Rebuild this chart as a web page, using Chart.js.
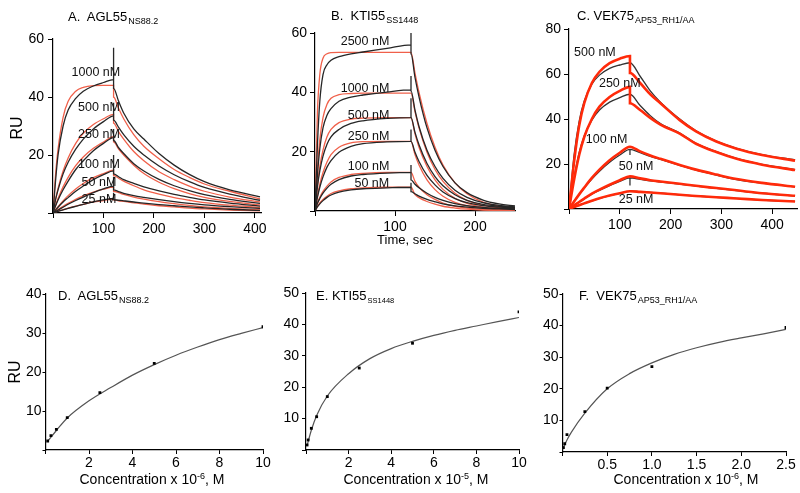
<!DOCTYPE html>
<html>
<head>
<meta charset="utf-8">
<script src="https://cdn.jsdelivr.net/npm/chart.js@4.4.1/dist/chart.umd.min.js"></script>
<style>
body{margin:0;background:#fff;width:800px;height:493px;position:relative;overflow:hidden;font-family:"Liberation Sans",Arial,sans-serif;color:#000}
canvas{position:absolute}
.t{position:absolute;white-space:nowrap;font-size:13px;line-height:1}
.t sub{font-size:9px;vertical-align:baseline;position:relative;top:3px;margin-left:1px}
.t sub.s{font-size:7.5px}
.ru{position:absolute;font-size:16px;line-height:1;transform:translate(-50%,-50%) rotate(-90deg)}
.xl{position:absolute;font-size:14px;line-height:1;white-space:nowrap;transform:translateX(-50%)}
.xl sup{font-size:9px;vertical-align:baseline;position:relative;top:-5px}
</style>
</head>
<body>
<canvas id="cA" width="270" height="245" style="left:0;top:0"></canvas>
<canvas id="cB" width="265" height="245" style="left:265px;top:0"></canvas>
<canvas id="cC" width="270" height="245" style="left:530px;top:0"></canvas>
<canvas id="cD" width="275" height="248" style="left:0;top:245px"></canvas>
<canvas id="cE" width="275" height="248" style="left:265px;top:245px"></canvas>
<canvas id="cF" width="270" height="248" style="left:530px;top:245px"></canvas>

<div class="t" style="left:68px;top:10px">A.&nbsp; AGL55<sub>NS88.2</sub></div>
<div class="t" style="left:331px;top:9px">B.&nbsp; KTI55<sub>SS1448</sub></div>
<div class="t" style="left:577px;top:9px">C. VEK75<sub>AP53_RH1/AA</sub></div>
<div class="t" style="left:58px;top:289px">D.&nbsp; AGL55<sub>NS88.2</sub></div>
<div class="t" style="left:316px;top:289px">E. KTI55<sub class="s">SS1448</sub></div>
<div class="t" style="left:579px;top:289px">F.&nbsp; VEK75<sub>AP53_RH1/AA</sub></div>

<div class="ru" style="left:17px;top:128px">RU</div>
<div class="ru" style="left:15px;top:372px">RU</div>
<div class="xl" style="left:405px;top:233px;font-size:13px">Time, sec</div>
<div class="xl" style="left:152px;top:472px">Concentration x 10<sup>-6</sup>, M</div>
<div class="xl" style="left:416px;top:472px">Concentration x 10<sup>-5</sup>, M</div>
<div class="xl" style="left:686px;top:472px">Concentration x 10<sup>-6</sup>, M</div>

<script>
// ---- A. AGL55 sensorgrams (RU vs time, s) ----
const tOnA = [0, 5, 10, 20, 30, 45, 60, 80, 100, 120];
const tOffA = [120, 130, 140, 160, 180, 210, 240, 270, 300, 350, 410];
const concA = ['1000 nM', '500 nM', '250 nM', '100 nM', '50 nM', '25 nM'];
const obsOnA = [
  [0, 11, 20, 30, 35.5, 39.5, 42, 43.8, 45, 46],
  [0, 4.5, 8, 13.5, 17.5, 22, 25.5, 29, 31.5, 33.5],
  [0, 2.4, 4.5, 8, 11, 15, 18, 21.5, 24, 26],
  [0, 1, 2, 3.8, 5.3, 7.5, 9.3, 11.5, 13.2, 14.5],
  [0, 0.5, 1, 2, 3, 4.3, 5.5, 7, 8.3, 9.3],
  [0, 0.3, 0.6, 1.1, 1.6, 2.3, 3, 3.8, 4.5, 5]
];
const spikeA = [57, 38, 29, 20, 12.5, 7];
const obsOffA = [
  [43, 38.5, 34.5, 29, 25.5, 20.5, 16.5, 13.3, 10.8, 8, 5.6],
  [32, 29.5, 27, 23, 20, 16.2, 13.2, 10.8, 8.8, 6.5, 4.4],
  [25, 22.5, 20.5, 17, 14.5, 11.6, 9.4, 7.7, 6.3, 4.7, 3.3],
  [13.5, 12.5, 11.5, 10.2, 9, 7.6, 6.4, 5.4, 4.5, 3.4, 2.4],
  [8, 7.4, 6.8, 6, 5.4, 4.6, 3.9, 3.3, 2.8, 2.2, 1.6],
  [4.6, 4.4, 4.2, 3.8, 3.4, 2.9, 2.5, 2.1, 1.8, 1.3, 0.9]
];
const fitOnA = [
  [0, 13, 22, 33, 38.5, 42, 43.3, 43.9, 44, 44],
  [0, 4.8, 8.5, 14.5, 19, 24, 27.5, 30.5, 32.5, 34],
  [0, 2.6, 5, 9, 12.3, 16.3, 19.3, 22.3, 24.5, 26.3],
  [0, 1.1, 2.2, 4.2, 6, 8.3, 10.2, 12.2, 13.6, 14.8],
  [0, 0.6, 1.2, 2.3, 3.3, 4.7, 5.9, 7.2, 8.2, 8.9],
  [0, 0.3, 0.6, 1.2, 1.7, 2.4, 3, 3.8, 4.3, 4.8]
];
const fitOffA = [
  [40, 36, 32.5, 27, 23, 18.7, 15, 12.3, 10, 7.5, 4.9],
  [31, 28, 25.5, 21.2, 18, 14.2, 11.5, 9.3, 7.5, 5.5, 3.8],
  [24.5, 22, 20, 16.5, 13.6, 10.6, 8.4, 6.7, 5.4, 4, 2.8],
  [13, 12, 11, 9.4, 8, 6.5, 5.3, 4.4, 3.6, 2.7, 1.9],
  [7.5, 7, 6.4, 5.5, 4.8, 3.9, 3.2, 2.6, 2.1, 1.6, 1.1],
  [4.5, 4.2, 4, 3.5, 3.1, 2.5, 2.1, 1.7, 1.4, 1, 0.7]
];
const labelXA = [85, 91, 91, 91, 91, 91];
const labelYA = [48.5, 36.2, 27, 16.8, 10.5, 4.8];

// ---- B. KTI55 sensorgrams ----
const tOnB = [0, 3, 6, 10, 15, 20, 30, 45, 60, 90, 120];
const tOffB = [120, 125, 130, 140, 150, 160, 175, 190, 210, 230, 250];
const concB = ['2500 nM', '1000 nM', '500 nM', '250 nM', '100 nM', '50 nM'];
const obsOnB = [
  [0, 22, 37, 46, 49.3, 50.8, 52, 53, 53.6, 54.8, 56],
  [0, 12, 21, 28, 32.3, 34.5, 37, 38.4, 39.1, 40.1, 40.8],
  [0, 8, 13.5, 18.5, 22.5, 25, 27.5, 29.5, 30.4, 31.2, 31.5],
  [0, 4.5, 8, 11.5, 14.8, 17, 19.8, 21.8, 22.7, 23.3, 23.5],
  [0, 2.5, 4.2, 6, 7.7, 9, 10.6, 11.8, 12.3, 12.8, 13],
  [0, 1.4, 2.4, 3.5, 4.6, 5.4, 6.4, 7.1, 7.5, 7.8, 8]
];
const spikeB = [60.5, 45.5, 38, 27.5, 15.5, 9.5];
const obsOffB = [
  [53, 45, 38.5, 28, 20.5, 15, 9.5, 6.2, 3.7, 2.4, 1.7],
  [40.5, 34, 28.5, 20.5, 15, 11, 7, 4.6, 2.8, 1.9, 1.4],
  [31.5, 26.5, 22.3, 16, 11.6, 8.5, 5.5, 3.6, 2.2, 1.6, 1.2],
  [23.5, 19.8, 16.7, 12, 8.8, 6.4, 4.2, 2.8, 1.8, 1.3, 1],
  [10.5, 9, 7.8, 6, 4.6, 3.6, 2.5, 1.8, 1.2, 0.9, 0.7],
  [6.5, 5.8, 5, 3.9, 3.1, 2.4, 1.7, 1.3, 0.9, 0.7, 0.5]
];
const fitOnB = [
  [0, 33, 46, 51.5, 53, 53.4, 53.5, 53.5, 53.5, 53.5, 53.5],
  [0, 14, 24, 31.5, 36, 38, 39.2, 39.6, 39.7, 39.7, 39.7],
  [0, 8.5, 15, 20.5, 25, 27.5, 29.8, 31, 31.3, 31.5, 31.5],
  [0, 5, 9, 13, 16.5, 19, 21.5, 23, 23.4, 23.5, 23.5],
  [0, 2.7, 4.6, 6.6, 8.4, 9.8, 11.3, 12.3, 12.7, 13, 13],
  [0, 1.5, 2.7, 3.9, 5, 5.9, 6.8, 7.5, 7.8, 8, 8]
];
const fitOffB = [
  [53.5, 46.5, 40, 29.5, 21.5, 15.5, 9.5, 5.8, 3, 1.6, 0.9],
  [39.7, 33.5, 28, 19.8, 14, 10, 6, 3.6, 1.9, 1.1, 0.6],
  [31.5, 26, 21.5, 15, 10.5, 7.3, 4.3, 2.6, 1.3, 0.7, 0.4],
  [23.5, 19, 15.5, 10.5, 7.2, 5, 2.9, 1.7, 0.9, 0.5, 0.3],
  [13, 10, 8, 5.5, 3.9, 2.7, 1.6, 1, 0.5, 0.3, 0.2],
  [8, 5.5, 4.5, 3.2, 2.3, 1.6, 1, 0.6, 0.3, 0.2, 0.1]
];
const labelXB = [62.5, 62.5, 67, 67, 67, 71];
const labelYB = [57, 41.2, 32.2, 25.2, 15, 9.4];

// ---- C. VEK75 sensorgrams ----
const tOnC = [0, 10, 20, 30, 45, 60, 80, 100, 120];
const tOffC = [120, 140, 160, 180, 218, 250, 290, 330, 380, 445];
const concC = ['500 nM', '250 nM', '100 nM', '50 nM', '25 nM'];
const obsOnC = [
  [0, 24, 39, 48, 55.5, 59.5, 62.5, 64, 65],
  [0, 14, 25, 32.5, 39.5, 44, 47.5, 49.5, 51],
  [0, 3.5, 6.5, 9.3, 13.3, 16.8, 20.8, 24, 26.5],
  [0, 1.6, 3.1, 4.5, 6.6, 8.3, 10.4, 12.3, 13.8],
  [0, 0.9, 1.7, 2.5, 3.6, 4.7, 5.9, 6.9, 7.8]
];
const spikeC = [null, null, 24, 10.5, null];
const obsOffC = [
  [65, 59, 52.5, 47.5, 40, 34.8, 30.2, 27, 24.2, 21.8],
  [51, 46, 41.5, 38, 33.8, 29.2, 25.5, 22.5, 19.8, 17.5],
  [26.5, 25, 23.4, 22, 19.4, 17.3, 15.1, 13.1, 11.5, 9.8],
  [13.8, 13.2, 12.5, 12, 11.1, 10.2, 9.2, 8.2, 7, 5.8],
  [8, 7.7, 7.4, 7.1, 6.3, 5.8, 5.2, 4.7, 4, 3.4]
];
const fitOnC = [
  [0, 21, 37, 47, 56, 61, 64.8, 66.8, 68],
  [0, 13, 24, 32, 40, 45.5, 49.8, 52.5, 54.3],
  [0, 3.3, 6.5, 9.5, 13.8, 17.5, 21.7, 25, 27.7],
  [0, 1.6, 3.1, 4.6, 6.8, 8.6, 10.8, 12.8, 14.5],
  [0, 0.9, 1.7, 2.5, 3.7, 4.8, 6, 7, 7.9]
];
const fitOffC = [
  [60.5, 56, 51, 47, 39.5, 34.5, 30, 26.8, 24, 21.5],
  [47, 44, 40.5, 37.5, 33.5, 29, 25.3, 22.3, 19.7, 17.3],
  [27.7, 25.6, 23.8, 22.3, 19.6, 17.5, 15.3, 13.3, 11.6, 9.9],
  [14.5, 13.6, 12.8, 12.2, 11.2, 10.3, 9.3, 8.3, 7, 5.9],
  [7.9, 7.6, 7.3, 7, 6.3, 5.8, 5.2, 4.7, 4, 3.3]
];
const labelXC = [51, 100, 74, 132, 132];
const labelYC = [69.5, 55.9, 30.7, 18.8, 4];

// ---- D/E/F. steady-state binding (RU vs concentration) ----
const concD = [0.1, 0.25, 0.5, 1, 2.5, 5, 10];
const ruD = [2.3, 3.7, 5.3, 8.3, 14.7, 22.2, 31.6];
const fitXD = [0.1, 0.5, 1, 2, 3, 4, 5, 6, 7, 8, 9, 10];
const fitYD = [2.2, 5, 8.2, 12.6, 16, 19.2, 21.9, 24.3, 26.4, 28.3, 29.9, 31.4];

const concE = [0.05, 0.1, 0.25, 0.5, 1, 2.5, 5, 10];
const ruE = [1.6, 3.2, 6.9, 10.6, 17, 26.1, 34, 44];
const fitXE = [0.05, 0.25, 0.5, 1, 2, 3, 4, 5, 6, 7, 8, 9, 10];
const fitYE = [1.4, 6.3, 11, 17.2, 24.3, 29.1, 32.3, 34.6, 36.5, 38.1, 39.5, 40.9, 42.2];

const concF = [0.01, 0.025, 0.05, 0.25, 0.5, 1, 2.5];
const ruF = [1.4, 2.6, 5.5, 12.8, 20.2, 27, 39.4];
const fitXF = [0, 0.05, 0.1, 0.25, 0.5, 0.75, 1, 1.25, 1.5, 1.75, 2, 2.25, 2.5];
const fitYF = [0.8, 3.8, 6.3, 12.3, 20, 24.8, 28.2, 30.9, 33, 34.7, 36.1, 37.4, 38.8];

Chart.defaults.font.family = '"Liberation Sans", Arial, sans-serif';
Chart.defaults.color = '#000';
Chart.defaults.animation = false;

Chart.register({
  id: 'concLabels',
  afterDatasetsDraw(chart, args, opts) {
    if (!opts.items) return;
    const ctx = chart.ctx;
    ctx.save();
    ctx.font = '12.5px "Liberation Sans", Arial, sans-serif';
    ctx.fillStyle = '#111';
    ctx.textAlign = 'center';
    ctx.textBaseline = 'middle';
    opts.items.forEach(function(it) {
      ctx.fillText(it.text, chart.scales.x.getPixelForValue(it.x), chart.scales.y.getPixelForValue(it.y));
    });
    ctx.restore();
  }
});

function pts(xs, ys) {
  return xs.map(function(x, i) { return {x: x, y: ys[i]}; });
}

function trace(tOn, on, spike, tOff, off) {
  let d = pts(tOn, on);
  if (spike != null) d.push({x: 120, y: spike});
  return d.concat(pts(tOff, off));
}

function line(data, color, width) {
  return {data: data, borderColor: color, borderWidth: width, pointRadius: 0,
    fill: false, cubicInterpolationMode: 'monotone'};
}

function noZero(v) { return v === 0 ? '' : v; }

// rect = canvas box on the page, area = plot box on the page
function panel(id, rect, area, datasets, xs, ys, items) {
  new Chart(document.getElementById(id), {
    type: 'line',
    data: {datasets: datasets},
    options: {
      responsive: false,
      events: [],
      layout: {padding: {left: 0, top: area.top - rect.top, right: rect.left + rect.width - area.right, bottom: 0}},
      plugins: {legend: {display: false}, tooltip: {enabled: false}, concLabels: {items: items}},
      scales: {
        x: {
          type: 'linear', min: xs.min, max: xs.max,
          ticks: {stepSize: xs.step, includeBounds: false, autoSkip: false, maxRotation: 0, padding: xs.pad,
            font: {size: 14}, callback: xs.fmt || noZero},
          grid: {drawOnChartArea: false, tickLength: xs.tl, color: '#000'},
          border: {color: '#000', width: 1.2},
          afterFit: function(s) { s.height = rect.top + rect.height - area.bottom; }
        },
        y: {
          type: 'linear', min: ys.min, max: ys.max,
          ticks: {stepSize: ys.step, includeBounds: false, padding: ys.pad, font: {size: 14}, callback: noZero},
          grid: {drawOnChartArea: false, tickLength: ys.tl, color: '#000'},
          border: {color: '#000', width: 1.2},
          afterFit: function(s) { s.width = area.left - rect.left; }
        }
      }
    }
  });
}

function sensorgram(tOn, tOff, obsOn, spikes, obsOff, fitOn, fitOff, blk, red, blkW, redW, redOnTop) {
  const black = obsOn.map(function(v, i) { return line(trace(tOn, v, spikes[i], tOff, obsOff[i]), blk, blkW); });
  const fits = fitOn.map(function(v, i) { return line(trace(tOn, v, null, tOff, fitOff[i]), red, redW); });
  return redOnTop ? fits.concat(black) : black.concat(fits);
}

function labels(names, xs, ys) {
  return names.map(function(n, i) { return {text: n, x: xs[i], y: ys[i]}; });
}

panel('cA', {left: 0, top: 0, width: 270, height: 245}, {left: 53, top: 39, right: 261, bottom: 213},
  sensorgram(tOnA, tOffA, obsOnA, spikeA, obsOffA, fitOnA, fitOffA, '#262626', '#f0604a', 1.3, 1.3, false),
  {min: 0, max: 412, step: 100, pad: 3, tl: 5}, {min: 0, max: 60, step: 20, pad: 4, tl: 5}, labels(concA, labelXA, labelYA));

panel('cB', {left: 265, top: 0, width: 265, height: 245}, {left: 315, top: 33, right: 515, bottom: 211},
  sensorgram(tOnB, tOffB, obsOnB, spikeB, obsOffB, fitOnB, fitOffB, '#262626', '#f0604a', 1.3, 1.3, false),
  {min: 0, max: 250, step: 100, pad: 3, tl: 5}, {min: 0, max: 60, step: 20, pad: 3, tl: 5}, labels(concB, labelXB, labelYB));

panel('cC', {left: 530, top: 0, width: 270, height: 245}, {left: 569, top: 29, right: 797.6, bottom: 209},
  sensorgram(tOnC, tOffC, obsOnC, spikeC, obsOffC, fitOnC, fitOffC, '#333', '#ff2a0a', 1.3, 2.6, true),
  {min: 0, max: 450, step: 100, pad: 3, tl: 5}, {min: 0, max: 80, step: 20, pad: 3, tl: 5}, labels(concC, labelXC, labelYC));

function binding(cx, ry, fx, fy) {
  return [
    {data: pts(cx, ry), showLine: false, pointStyle: 'rect', pointRadius: 2, backgroundColor: '#000', borderColor: '#000', borderWidth: 0},
    line(pts(fx, fy), '#555', 1.2)
  ];
}

panel('cD', {left: 0, top: 245, width: 275, height: 248}, {left: 45.5, top: 294, right: 263, bottom: 450},
  binding(concD, ruD, fitXD, fitYD), {min: 0, max: 10, step: 2, pad: 1, tl: 4}, {min: 0, max: 40, step: 10, pad: 1, tl: 3}, null);

panel('cE', {left: 265, top: 245, width: 275, height: 248}, {left: 306, top: 293, right: 519, bottom: 450},
  binding(concE, ruE, fitXE, fitYE), {min: 0, max: 10, step: 2, pad: 1, tl: 4}, {min: 0, max: 50, step: 10, pad: 3, tl: 4}, null);

panel('cF', {left: 530, top: 245, width: 270, height: 248}, {left: 562.5, top: 294, right: 786, bottom: 452},
  binding(concF, ruF, fitXF, fitYF),
  {min: 0, max: 2.5, step: 0.5, pad: 1, tl: 4, fmt: function(v) { return v === 0 ? '' : v.toFixed(1); }},
  {min: 0, max: 50, step: 10, pad: 1, tl: 3}, null);
</script>
</body>
</html>
